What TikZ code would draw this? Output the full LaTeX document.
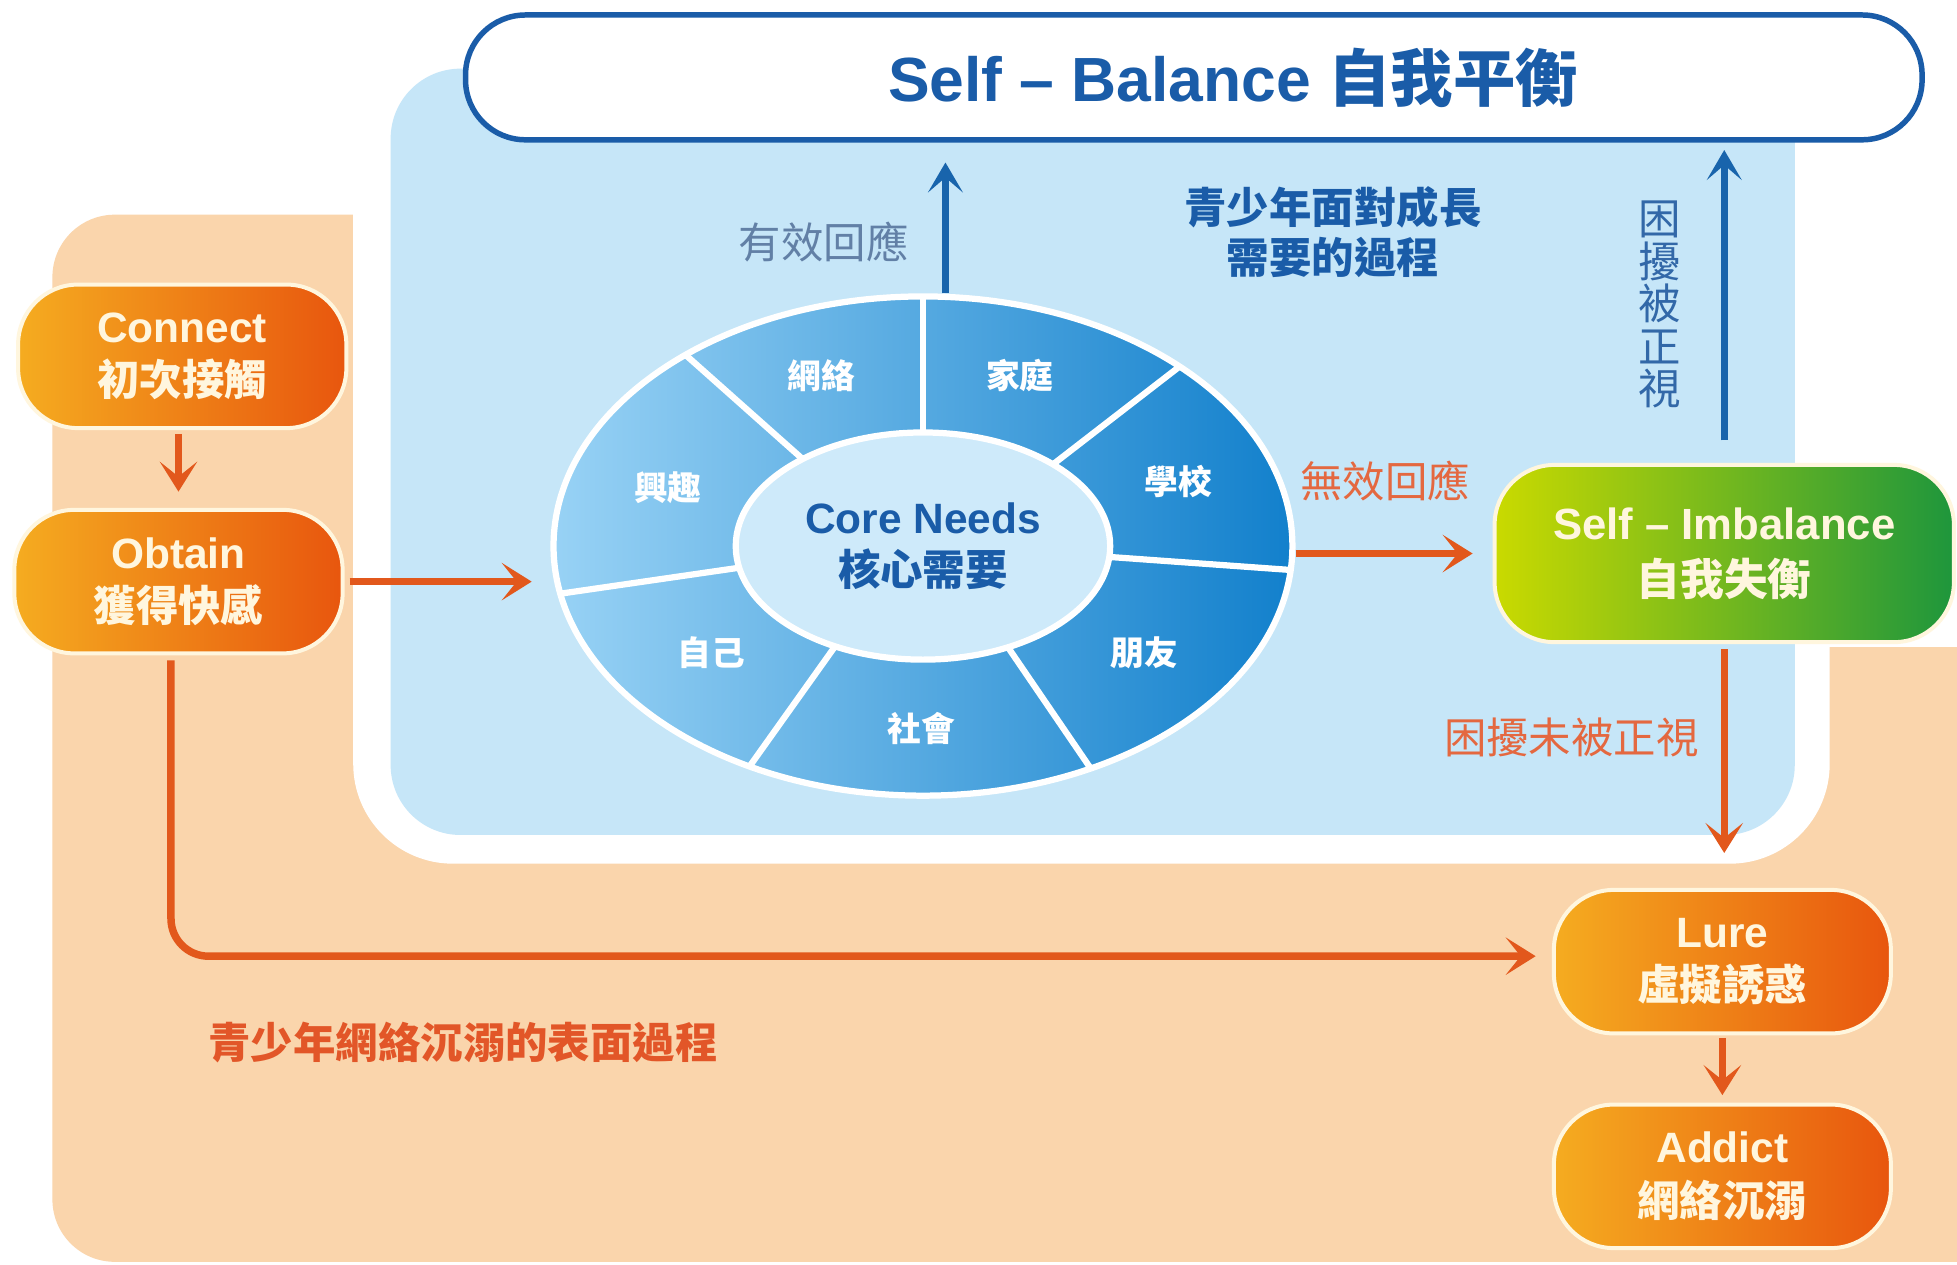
\documentclass[tikz,border=0pt]{standalone}
\usepackage{fontspec}
\setmainfont{Liberation Sans}
\newfontfamily\cjk{Noto Sans CJK TC}
\usetikzlibrary{arrows.meta,shapes.geometric,calc}
\definecolor{peach}{RGB}{250,213,172}
\definecolor{panel}{RGB}{198,230,248}
\definecolor{navy}{RGB}{26,92,168}
\definecolor{arrblue}{RGB}{24,100,172}
\definecolor{arrorange}{RGB}{226,88,28}
\definecolor{oL}{RGB}{245,172,32}
\definecolor{oR}{RGB}{232,86,14}
\definecolor{gL}{RGB}{202,218,0}
\definecolor{gR}{RGB}{30,150,60}
\definecolor{cream}{RGB}{255,246,222}
\definecolor{ringL}{RGB}{152,210,245}
\definecolor{ringR}{RGB}{18,128,204}
\definecolor{innerblue}{RGB}{206,234,250}
\definecolor{lblgray}{RGB}{98,128,166}
\definecolor{lblblue}{RGB}{50,104,168}
\definecolor{lblorange}{RGB}{228,104,64}
\definecolor{txtorange}{RGB}{226,86,40}
\begin{document}
\begin{tikzpicture}[x=0.5pt,y=-0.5pt,
  oarr/.style={draw=arrorange, line width=3pt, -{Stealth[length=12pt,width=15pt,inset=6pt]}},
  barr/.style={draw=arrblue, line width=3pt, -{Stealth[length=12pt,width=14pt,inset=6pt]}},
  boxbase/.style={rectangle, rounded corners=24pt, draw=cream, line width=1.6pt, text=cream,
    align=center, inner sep=0pt, font=\bfseries\fontsize{17pt}{21.5pt}\selectfont},
  obox/.style={boxbase, left color=oL, right color=oR, minimum width=131.5pt, minimum height=57.5pt},
  gbox/.style={boxbase, left color=gL, right color=gR, minimum width=184pt, minimum height=71pt,
    font=\bfseries\fontsize{17.5pt}{22.5pt}\selectfont},
  seglbl/.style={text=white, inner sep=0pt, font=\cjk\bfseries\fontsize{13.5pt}{14pt}\selectfont},
  lbl/.style={inner sep=0pt, font=\cjk\fontsize{17pt}{17pt}\selectfont},
  heading/.style={inner sep=0pt, align=center, font=\cjk\bfseries\fontsize{17pt}{20pt}\selectfont}]
\useasboundingbox (0,0) rectangle (1568,1013);
\clip (0,0) rectangle (1568,1013);
\fill[white] (0,0) rectangle (1568,1013);
% background regions
\fill[peach, rounded corners=25pt] (42,172) rectangle (1700,1011);
\fill[white] (283,-10) rectangle (1600,518);
\fill[white, rounded corners=40pt] (283,25) rectangle (1466,692);
\fill[panel, rounded corners=28pt] (313,55) rectangle (1438,669);
% top box
\node[rectangle, rounded corners=24pt, draw=navy, line width=2.2pt, fill=white,
  minimum width=583.5pt, minimum height=50pt, inner sep=0pt, text=navy,
  font=\bfseries\fontsize{25pt}{30pt}\selectfont] (balance) at (956.5,62)
  {\hspace*{31.5pt}Self – Balance {\cjk 自我平衡}};
% core needs ring
\node[ellipse, minimum width=296pt, minimum height=200pt, inner sep=0pt,
  left color=ringL, right color=ringR, draw=white, line width=2.5pt] (core) at (739.5,437.5) {};
\foreach \a in {90,46,-5.5,-63,-118,-169,130}
  \draw[white, line width=2.5pt, shift={(core.center)}] (\a:75pt and 45.5pt) -- (\a:148pt and 100pt);
\node[ellipse, minimum width=150pt, minimum height=91pt, inner sep=0pt, fill=innerblue,
  draw=white, line width=2.5pt, text=navy, align=center,
  font=\bfseries\fontsize{17pt}{21pt}\selectfont] (needs) at (core.center)
  {Core Needs\\{\cjk 核心需要}};
\node[seglbl] (s1) at (658,301) {網絡};
\node[seglbl] (s2) at (817,301) {家庭};
\node[seglbl] (s3) at (944,386) {學校};
\node[seglbl] (s4) at (917,523) {朋友};
\node[seglbl] (s5) at (738,584) {社會};
\node[seglbl] (s6) at (570,523) {自己};
\node[seglbl] (s7) at (535,391) {興趣};
% process boxes
\node[obox] (connect) at (146,285.5) {Connect\\{\cjk 初次接觸}};
\node[obox] (obtain) at (143,466) {Obtain\\{\cjk 獲得快感}};
\node[gbox] (imbalance) at (1381.5,443.5) {Self – Imbalance\\{\cjk 自我失衡}};
\node[obox, minimum width=135pt] (lure) at (1380,770.5) {Lure\\{\cjk 虛擬誘惑}};
\node[obox, minimum width=135pt] (addict) at (1380,942.5) {Addict\\{\cjk 網絡沉溺}};
% headings
\node[heading, text=navy] (growth) at (1068,186) {青少年面對成長\\需要的過程};
\node[heading, text=txtorange] (surface) at (371,835) {青少年網絡沉溺的表面過程};
% connectors
\draw[oarr, shorten <=1.5pt, shorten >=6.5pt] (obtain.north |- connect.south) -- (obtain.north);
\draw[oarr, shorten <=2pt, shorten >=7.5pt] (obtain.east) -- (obtain.east -| core.west);
\draw[oarr, shorten >=8pt] (imbalance.west -| core.east) -- (imbalance.west);
\draw[barr, shorten >=8pt] ([xshift=9pt]core.north) -- ([xshift=9pt]core.north |- balance.south);
\draw[barr, shorten <=9pt, shorten >=3pt] (imbalance.north) -- (imbalance.north |- balance.south);
\draw[oarr, shorten <=2pt, shorten >=14pt] (imbalance.south) -- (imbalance.south |- lure.north);
\draw[oarr, shorten <=1pt, shorten >=3pt] (lure.south) -- (addict.north);
\draw[oarr, rounded corners=15pt, shorten <=2pt, shorten >=6.5pt]
  ([xshift=-3pt]obtain.south) |- ([yshift=2.2pt]lure.west);
% connector labels
\node[lbl, text=lblgray] (eff) at (660,194) {有效回應};
\node[lbl, text=lblorange] (ineff) at (1110,385) {無效回應};
\node[lbl, text=lblorange] (unseen) at (1259,591) {困擾未被正視};
\node[lbl, text=lblblue, align=center] (seen) at (1330,244) {困\\擾\\被\\正\\視};
\end{tikzpicture}
\end{document}
